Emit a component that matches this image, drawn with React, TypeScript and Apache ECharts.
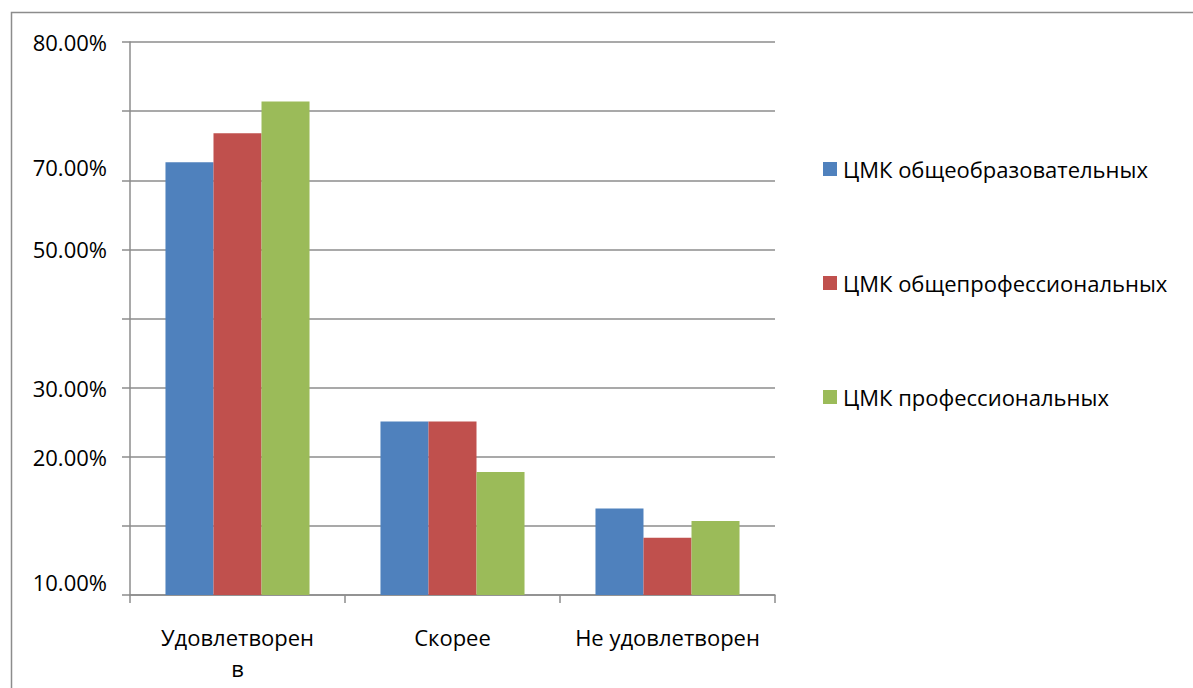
import React, { useEffect, useRef } from "react";
import * as echarts from "echarts";

const categories = ["Удовлетворен\nв", "Скорее", "Не удовлетворен"];
const seriesNames = ["ЦМК общеобразовательных", "ЦМК общепрофессиональных", "ЦМК профессиональных"];
// values in axis grid units (the axis labels are irregular)
const blueValues = [6.26, 2.51, 1.25];
const redValues = [6.68, 2.51, 0.83];
const greenValues = [7.14, 1.78, 1.07];
const tickLabels = ["10.00%", "", "20.00%", "30.00%", "", "50.00%", "70.00%", "", "80.00%"];
const raisedTicks = [0, 6];
const colors = ["#4F81BD", "#C0504D", "#9BBB59"];

const FONT = "'Open Sans', 'Liberation Sans', sans-serif";

export default function App() {
  const ref = useRef<HTMLDivElement>(null);
  useEffect(() => {
    const chart = echarts.init(ref.current!, null, { renderer: "svg" });
    const values = [blueValues, redValues, greenValues];
    chart.setOption({
      animation: false,
      backgroundColor: "#ffffff",
      graphic: [
        {
          type: "rect",
          shape: { x: 11.5, y: 12.5, width: 1200, height: 700 },
          style: { fill: "none", stroke: "#8c8c8c", lineWidth: 1.5 },
          silent: true,
        },
      ],
      grid: { left: 130, top: 42, width: 645, height: 553 },
      legend: {
        orient: "vertical",
        left: 818,
        top: 152,
        itemGap: 90,
        itemWidth: 14,
        itemHeight: 14,
        icon: "rect",
        textStyle: { fontFamily: FONT, fontSize: 22, lineHeight: 24, color: "#000", padding: [0, 0, 0, 1] },
        data: seriesNames,
      },
      xAxis: {
        type: "category",
        data: categories,
        axisLine: { lineStyle: { color: "#8c8c8c", width: 1.5 } },
        axisTick: { show: true, length: 8, lineStyle: { color: "#8c8c8c", width: 1.5 } },
        axisLabel: {
          fontFamily: FONT,
          fontSize: 22,
          color: "#000",
          margin: 26,
          lineHeight: 31,
          interval: 0,
        },
      },
      yAxis: {
        type: "value",
        min: 0,
        max: 8,
        interval: 1,
        axisLine: { show: true, lineStyle: { color: "#8c8c8c", width: 1.5 } },
        axisTick: { show: true, length: 8, lineStyle: { color: "#8c8c8c", width: 1.5 } },
        splitLine: { lineStyle: { color: "#8c8c8c", width: 1.5 } },
        axisLabel: {
          fontFamily: FONT,
          fontSize: 22,
          color: "#000",
          margin: 23,
          verticalAlign: "middle",
          formatter: (v: number) => {
            const i = Math.round(v);
            const t = tickLabels[i] ?? "";
            if (!t) return "";
            return raisedTicks.includes(i) ? `{up|${t}}` : t;
          },
          rich: {
            up: { fontFamily: FONT, fontSize: 22, color: "#000", padding: [0, 0, 26, 0] },
          },
        },
      },
      series: seriesNames.map((name, i) => ({
        name,
        type: "bar",
        data: values[i],
        barGap: "0%",
        barCategoryGap: "33%",
        itemStyle: { color: colors[i] },
      })),
    });
    return () => chart.dispose();
  }, []);
  return (
    <div
      ref={ref}
      style={{ position: "fixed", left: 0, top: 0, width: 1193, height: 688 }}
    />
  );
}
